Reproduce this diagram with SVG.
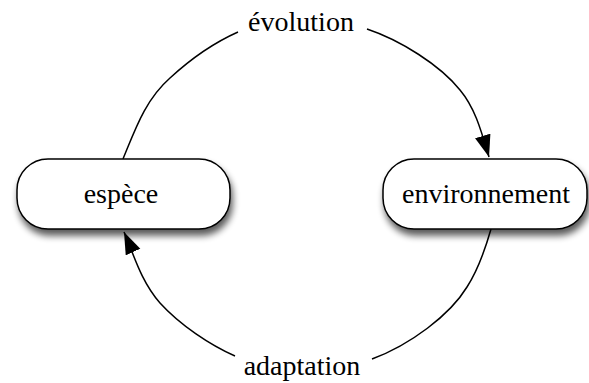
<svg xmlns="http://www.w3.org/2000/svg" width="589" height="383" viewBox="0 0 589 383">
  <style>
    .node rect { fill: #ffffff; stroke: #000000; stroke-width: 1.5; }
    .label { font-family: 'Liberation Serif', 'Times New Roman', serif; font-size: 28px; fill: #000000; text-anchor: middle; }
    .edge { fill: none; stroke: #000000; stroke-width: 1.5; }
  </style>
  <defs>
    <filter id="shadow" x="-20%" y="-30%" width="140%" height="170%">
      <feGaussianBlur in="SourceAlpha" stdDeviation="3.5"/>
      <feOffset dx="2" dy="6" result="blur"/>
      <feComponentTransfer><feFuncA type="linear" slope="0.65"/></feComponentTransfer>
      <feMerge><feMergeNode/><feMergeNode in="SourceGraphic"/></feMerge>
    </filter>
    <marker id="arrow" markerUnits="userSpaceOnUse" markerWidth="24" markerHeight="18" refX="22" refY="8" orient="auto">
      <path d="M0,0 L22,8 L0,16 Z" fill="#000000"/>
    </marker>
  </defs>

  <g id="edges">
    <path class="edge" d="M123,159 C135,130 145,100 170,78 C195,55 220,40 238,32"/>
    <path class="edge" d="M367,29 C400,40 440,65 460,90 C475,108 481,130 489,157" marker-end="url(#arrow)"/>
    <path class="edge" d="M491,229 C485,250 478,270 467,287 C450,315 410,345 372,359"/>
    <path class="edge" d="M235,356 C210,345 180,325 160,303 C140,280 133,252 124,232" marker-end="url(#arrow)"/>
  </g>

  <g id="espece" class="node">
    <rect x="17" y="159" width="213" height="70" rx="31" ry="31" filter="url(#shadow)"/>
    <text class="label" x="121" y="203">espèce</text>
  </g>

  <g id="environnement" class="node">
    <rect x="383" y="159" width="204" height="70" rx="31" ry="31" filter="url(#shadow)"/>
    <text class="label" x="486" y="203">environnement</text>
  </g>

  <g id="edge-labels">
    <text class="label" x="301" y="31">évolution</text>
    <text class="label" x="302" y="375">adaptation</text>
  </g>
</svg>
